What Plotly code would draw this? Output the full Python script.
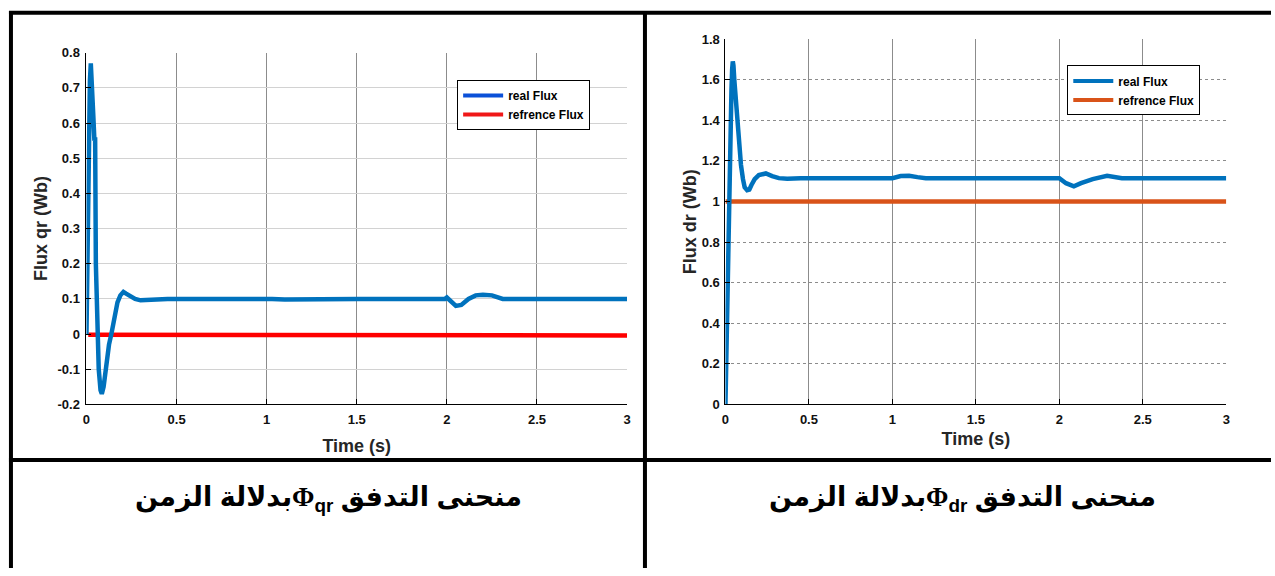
import plotly.graph_objects as go

# ---------------- data ----------------
# Left: flux qr
t_qr = [0, 0.004, 0.008, 0.012, 0.015, 0.019, 0.024, 0.028, 0.033, 0.038, 0.044, 0.048,
        0.052, 0.058, 0.068, 0.078, 0.085, 0.095, 0.108, 0.125, 0.138, 0.155, 0.172, 0.188,
        0.205, 0.22, 0.245, 0.27, 0.3, 0.33, 0.37, 0.45, 0.55, 0.65, 0.7, 0.72, 0.74, 0.85,
        0.95, 1.0, 1.03, 1.1, 1.18, 1.25, 1.3, 1.5, 1.7, 1.9, 1.99, 2.0, 2.02, 2.05, 2.08,
        2.12, 2.16, 2.2, 2.25, 2.29, 2.31, 2.5, 2.8, 3.0]
real_qr = [0, 0.2, 0.45, 0.6, 0.58, 0.72, 0.77, 0.74, 0.7, 0.62, 0.55, 0.56,
           0.2, 0.02, -0.1, -0.16, -0.17, -0.15, -0.09, -0.03, 0.0, 0.05, 0.09, 0.11,
           0.12, 0.115, 0.107, 0.1, 0.096, 0.097, 0.1, 0.1, 0.1, 0.1, 0.101, 0.103, 0.1, 0.1,
           0.1, 0.102, 0.1, 0.098, 0.099, 0.1, 0.1, 0.1, 0.1, 0.1, 0.1, 0.104, 0.095, 0.08, 0.083,
           0.1, 0.11, 0.112, 0.11, 0.104, 0.1, 0.1, 0.1, 0.1]
t_ref_qr = [0.01, 3.0]
ref_qr = [-0.002, -0.004]

# Right: flux dr
t_dr = [0, 0.004, 0.008, 0.012, 0.016, 0.02, 0.024, 0.028, 0.032, 0.036, 0.04, 0.044,
        0.048, 0.053, 0.058, 0.064, 0.07, 0.08, 0.093, 0.105, 0.115, 0.13, 0.143, 0.155,
        0.175, 0.2, 0.242, 0.28, 0.32, 0.37, 0.45, 0.7, 1.0, 1.05, 1.1, 1.15, 1.2, 1.5,
        1.8, 2.0, 2.04, 2.087, 2.13, 2.2, 2.286, 2.33, 2.375, 2.7, 3.0]
real_dr = [0, 0.2, 0.4, 0.6, 0.8, 1.0, 1.1, 1.3, 1.5, 1.55, 1.65, 1.69,
           1.67, 1.6, 1.55, 1.48, 1.4, 1.28, 1.18, 1.11, 1.07, 1.055, 1.058, 1.08,
           1.11, 1.13, 1.138, 1.125, 1.115, 1.112, 1.115, 1.115, 1.115, 1.125, 1.127, 1.12, 1.115, 1.115,
           1.115, 1.115, 1.09, 1.075, 1.09, 1.11, 1.127, 1.122, 1.115, 1.115, 1.115]
t_ref_dr = [0, 3.0]
ref_dr = [1.0, 1.0]

x_ticks = [0, 0.5, 1, 1.5, 2, 2.5, 3]
x_labels = ["0", "0.5", "1", "1.5", "2", "2.5", "3"]
y_ticks_qr = [-0.2, -0.1, 0, 0.1, 0.2, 0.3, 0.4, 0.5, 0.6, 0.7, 0.8]
y_labels_qr = ["-0.2", "-0.1", "0", "0.1", "0.2", "0.3", "0.4", "0.5", "0.6", "0.7", "0.8"]
y_ticks_dr = [0, 0.2, 0.4, 0.6, 0.8, 1, 1.2, 1.4, 1.6, 1.8]
y_labels_dr = ["0", "0.2", "0.4", "0.6", "0.8", "1", "1.2", "1.4", "1.6", "1.8"]

legend_names = ["real Flux", "refrence Flux"]
PHI = "<span style=\"font-family:'Liberation Serif', 'DejaVu Serif', serif\">Φ</span>"
caption_qr = "\u202bمنحنى التدفق " + PHI + "<sub>qr</sub>بدلالة الزمن\u202c"
caption_dr = "\u202bمنحنى التدفق " + PHI + "<sub>dr</sub>بدلالة الزمن\u202c"

# ---------------- figure ----------------
W, H = 1275, 576
def px(x):
    return x / W
def py(y):
    return 1 - y / H

BLUE = "#0072BD"
ORANGE = "#D95319"
RED = "#FF0000"
LW = 4.5

fig = go.Figure()

# left plot
fig.add_trace(go.Scatter(x=t_ref_qr, y=ref_qr, mode="lines", line=dict(color=RED, width=LW),
                         xaxis="x", yaxis="y", showlegend=False, hoverinfo="skip"))
fig.add_trace(go.Scatter(x=t_qr, y=real_qr, mode="lines", line=dict(color=BLUE, width=LW),
                         xaxis="x", yaxis="y", showlegend=False))
# legend entries (left legend uses different colours, as in the reference)
fig.add_trace(go.Scatter(x=[None], y=[None], mode="lines", name=legend_names[0],
                         line=dict(color="#0b50d8", width=4), xaxis="x", yaxis="y", legend="legend"))
fig.add_trace(go.Scatter(x=[None], y=[None], mode="lines", name=legend_names[1],
                         line=dict(color="#f01818", width=4), xaxis="x", yaxis="y", legend="legend"))

# right plot
fig.add_trace(go.Scatter(x=t_ref_dr, y=ref_dr, mode="lines", line=dict(color=ORANGE, width=LW),
                         xaxis="x2", yaxis="y2", showlegend=False, hoverinfo="skip"))
fig.add_trace(go.Scatter(x=t_dr, y=real_dr, mode="lines", line=dict(color=BLUE, width=LW),
                         xaxis="x2", yaxis="y2", showlegend=False))
fig.add_trace(go.Scatter(x=[None], y=[None], mode="lines", name=legend_names[0],
                         line=dict(color=BLUE, width=4), xaxis="x2", yaxis="y2", legend="legend2"))
fig.add_trace(go.Scatter(x=[None], y=[None], mode="lines", name=legend_names[1],
                         line=dict(color=ORANGE, width=4), xaxis="x2", yaxis="y2", legend="legend2"))

FONT = "Arial, Liberation Sans, sans-serif"
tickfont = dict(family=FONT, size=13, color="#111", weight="bold")
titlefont = dict(family=FONT, size=18, color="#262626", weight="bold")

def xaxis_cfg(domain, anchor, standoff):
    return dict(domain=domain, anchor=anchor, range=[0, 3], tickvals=x_ticks, ticktext=x_labels,
                tickfont=tickfont, ticklabelstandoff=3,
                showline=True, linecolor="black", linewidth=1, ticks="inside", ticklen=5,
                tickcolor="black", showgrid=True, gridcolor="#8c8c8c", gridwidth=1,
                zeroline=False, mirror=False,
                title=dict(text="Time (s)", font=titlefont, standoff=standoff))

fig.update_layout(
    width=W, height=H, margin=dict(l=0, r=0, t=0, b=0),
    paper_bgcolor="white", plot_bgcolor="white",
    xaxis=xaxis_cfg([px(83), px(627)], "y", 13),
    yaxis=dict(domain=[py(408), py(47)], anchor="x", range=[-0.2, 0.8], tickvals=y_ticks_qr,
               ticktext=y_labels_qr, tickfont=tickfont, ticklabelstandoff=3,
               showline=True, linecolor="black",
               ticks="inside", ticklen=5, tickcolor="black", showgrid=True, gridcolor="#d2d2d2",
               zeroline=False, title=dict(text="Flux qr (Wb)", font=titlefont, standoff=5)),
    xaxis2=xaxis_cfg([px(726), px(1230)], "y2", 6),
    yaxis2=dict(domain=[py(408), py(33)], anchor="x2", range=[0, 1.8], tickvals=y_ticks_dr,
                ticktext=y_labels_dr, tickfont=tickfont, ticklabelstandoff=2,
                showline=True, linecolor="black",
                ticks="inside", ticklen=5, tickcolor="black", showgrid=True, gridcolor="#8c8c8c",
                griddash="dot", zeroline=False,
                title=dict(text="Flux dr (Wb)", font=titlefont, standoff=0)),
    legend=dict(x=px(456), y=py(75), xanchor="left", yanchor="top", bgcolor="white",
                bordercolor="black", borderwidth=1,
                font=dict(family=FONT, size=12, color="black", weight="bold"),
                tracegroupgap=0, itemwidth=40),
    legend2=dict(x=px(1070), y=py(60), xanchor="left", yanchor="top", bgcolor="white",
                 bordercolor="black", borderwidth=1,
                 font=dict(family=FONT, size=12, color="black", weight="bold"),
                 tracegroupgap=0, itemwidth=40),
    showlegend=True,
)

# frame lines
frame = [
    (5, 6, 1275, 6),      # top
    (7, 4, 7, 576),       # left
    (645, 4, 645, 576),   # middle
    (5, 465, 1275, 465),  # horizontal divider
]
for x0, y0, x1, y1 in frame:
    fig.add_shape(type="line", xref="paper", yref="paper", x0=px(x0), y0=py(y0), x1=px(x1), y1=py(y1),
                  line=dict(color="black", width=4))

capfont = dict(family="Arial, DejaVu Sans, sans-serif", size=27, color="black", weight="bold")
fig.add_annotation(text=caption_qr, xref="paper", yref="paper", x=px(327), y=py(505),
                   showarrow=False, font=capfont, xanchor="center", yanchor="middle")
fig.add_annotation(text=caption_dr, xref="paper", yref="paper", x=px(965), y=py(505),
                   showarrow=False, font=capfont, xanchor="center", yanchor="middle")

fig.write_html("out.html", config={"displayModeBar": False},
               post_script="document.body.style.margin='0';document.body.style.overflow='hidden';")
